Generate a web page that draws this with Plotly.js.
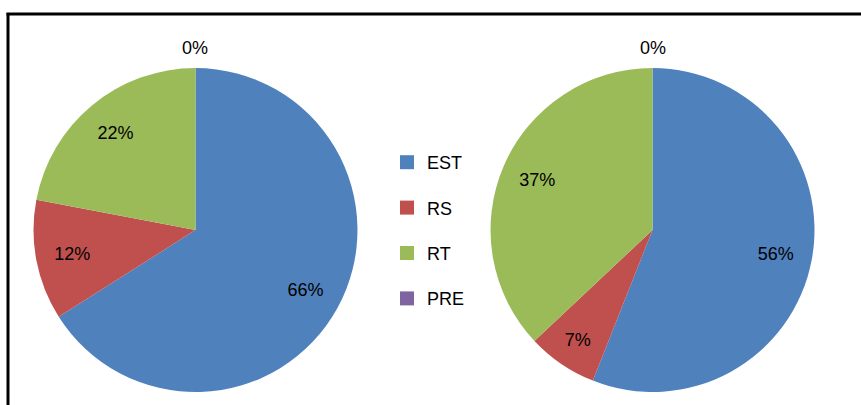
<!DOCTYPE html>
<html>
<head>
<meta charset="utf-8">
<script src="https://cdn.plot.ly/plotly-3.0.1.min.js"></script>
<style>html,body{margin:0;padding:0;background:#fff;}#chart{width:861px;height:405px;}</style>
</head>
<body>
<div id="chart"></div>
<script>
const categories = ['EST', 'RS', 'RT', 'PRE'];
const colors = ['#4F81BD', '#C0504D', '#9BBB59', '#8064A2'];
const leftValues = [66, 12, 22, 0];
const rightValues = [56, 7, 37, 0];

const FONT = {family: 'Liberation Sans, Arial, sans-serif', size: 18, color: '#000'};
const domL = {x: [0.0389, 0.4152], y: [0.0321, 0.832]};
const domR = {x: [0.5697, 0.946], y: [0.0321, 0.832]};

function basePie(values, dom) {
  return {
    type: 'pie', labels: categories, values: values, domain: dom,
    sort: false, direction: 'clockwise', rotation: 0,
    marker: {colors: colors, line: {width: 0}},
    textinfo: 'none', hoverinfo: 'label+value', showlegend: false
  };
}
function textPie(values, dom) {
  return {
    type: 'pie', labels: categories, values: values, domain: dom,
    sort: false, direction: 'clockwise', rotation: 0, hole: 0.55,
    marker: {colors: categories.map(() => 'rgba(0,0,0,0)'), line: {width: 0}},
    text: values.map(v => v === 0 ? '' : v + '%'),
    textinfo: 'text',
    textposition: 'inside',
    insidetextorientation: 'horizontal',
    textfont: FONT, insidetextfont: FONT,
    hoverinfo: 'skip', showlegend: false
  };
}
// labels for zero-value slices sit above the pie top, as in the original
function zeroLabels(values, dom) {
  const cx = (dom.x[0] + dom.x[1]) / 2;
  return values.map((v, i) => v === 0 ? {
    xref: 'paper', yref: 'paper', x: cx, y: dom.y[1] + 20/405,
    xanchor: 'center', yanchor: 'middle', showarrow: false,
    text: v + '%', font: FONT
  } : null).filter(a => a);
}
const legendTraces = categories.map((c, i) => ({
  type: 'scatter', mode: 'markers', x: [null], y: [null], name: c,
  legendgroup: c, marker: {symbol: 'square', size: 14, color: colors[i]},
  hoverinfo: 'skip'
}));

const data = [basePie(leftValues, domL), basePie(rightValues, domR),
              textPie(leftValues, domL), textPie(rightValues, domR)].concat(legendTraces);

const layout = {
  width: 861, height: 405,
  margin: {l: 0, r: 0, t: 0, b: 0},
  paper_bgcolor: '#fff', plot_bgcolor: 'rgba(0,0,0,0)',
  font: FONT,
  xaxis: {visible: false}, yaxis: {visible: false},
  showlegend: true,
  legend: {x: 387/861, xanchor: 'left', y: 1 - 144/405, yanchor: 'top',
           traceorder: 'grouped', tracegroupgap: 19, font: FONT,
           bgcolor: 'rgba(0,0,0,0)'},
  annotations: zeroLabels(leftValues, domL).concat(zeroLabels(rightValues, domR)),
  shapes: [
    {type: 'line', xref: 'paper', yref: 'paper', x0: 8/861, x1: 8/861, y0: 0, y1: 1 - 13/405,
     line: {color: '#000', width: 3}},
    {type: 'line', xref: 'paper', yref: 'paper', x0: 6.5/861, x1: 1, y0: 1 - 14/405, y1: 1 - 14/405,
     line: {color: '#000', width: 3}}
  ]
};
Plotly.newPlot('chart', data, layout, {displayModeBar: false, staticPlot: true});
</script>
</body>
</html>
